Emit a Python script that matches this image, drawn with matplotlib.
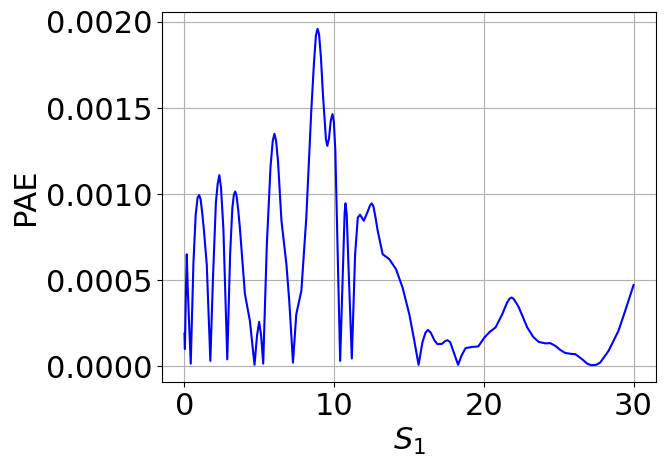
import matplotlib
matplotlib.use("Agg")
import matplotlib.pyplot as plt

# S_1 positions and PAE values (x1e-4)
s1 = [0, 0.03, 0.1, 0.155, 0.22, 0.42, 0.6, 0.75, 0.88, 0.98, 1.08, 1.2, 1.3, 1.49, 1.73,
      1.9, 2.1, 2.22, 2.33, 2.44, 2.6, 2.86, 3.05, 3.2, 3.3, 3.39, 3.48, 3.6, 3.7, 4.04,
      4.37, 4.68, 4.85, 4.99, 5.12, 5.26, 5.5, 5.75, 5.9, 6.01, 6.12, 6.25, 6.48, 6.81,
      7.0, 7.25, 7.47, 7.81, 8.14, 8.47, 8.65, 8.78, 8.89, 8.99, 9.12, 9.25, 9.45, 9.54,
      9.65, 9.78, 9.89, 9.98, 10.08, 10.2, 10.40, 10.6, 10.7, 10.76, 10.84, 10.95, 11.18,
      11.4, 11.58, 11.73, 11.98, 12.25, 12.4, 12.51, 12.62, 12.75, 12.91, 13.24, 13.68,
      14.13, 14.57, 15.02, 15.35, 15.64, 15.9, 16.1, 16.26, 16.45, 16.7, 16.9, 17.2, 17.4,
      17.57, 17.75, 17.95, 18.28, 18.5, 18.78, 19.23, 19.63, 20.03, 20.4, 20.78, 21.23,
      21.55, 21.72, 21.85, 21.98, 22.15, 22.34, 22.9, 23.3, 23.67, 24.1, 24.44, 24.78,
      25.1, 25.44, 25.8, 26.11, 26.56, 26.9, 27.17, 27.5, 27.77, 28.33, 28.99, 29.44, 30.0]
pae_e4 = [1.9, 1.0, 4.5, 6.5, 4.5, 0.15, 6.0, 8.8, 9.8, 9.94, 9.7, 8.8, 7.9, 5.9, 0.31,
          5.0, 9.5, 10.6, 11.1, 10.4, 8.0, 0.4, 6.5, 9.2, 9.95, 10.15, 9.9, 9.0, 8.06, 4.19,
          2.64, 0.08, 1.8, 2.58, 1.8, 0.15, 7.0, 11.6, 13.1, 13.5, 13.1, 11.9, 8.45, 5.93,
          3.8, 0.21, 3.02, 4.38, 8.64, 14.8, 17.6, 19.2, 19.6, 19.3, 17.9, 15.8, 13.2, 12.8,
          13.2, 14.3, 14.65, 14.2, 12.5, 8.0, 0.31, 6.0, 8.9, 9.46, 8.8, 6.0, 0.45,
          6.5, 8.64, 8.8, 8.45, 9.0, 9.35, 9.46, 9.3, 8.7, 7.87, 6.51, 6.22,
          5.64, 4.57, 3.02, 1.5, 0.08, 1.4, 1.95, 2.11, 1.95, 1.5, 1.28, 1.3, 1.45,
          1.51, 1.4, 0.9, 0.08, 0.6, 1.05, 1.12, 1.15, 1.66, 2.0, 2.25, 3.02,
          3.7, 3.93, 3.99, 3.92, 3.7, 3.41, 2.25, 1.7, 1.41, 1.33, 1.34, 1.18,
          0.95, 0.77, 0.72, 0.70, 0.41, 0.15, 0.06, 0.08, 0.21, 0.89, 2.05, 3.21, 4.71]
pae = [v * 1e-4 for v in pae_e4]

fig, ax = plt.subplots(figsize=(6.67, 4.67), dpi=100)
fig.subplots_adjust(left=162/667, right=656/667, top=1-12/467, bottom=1-382/467)

ax.plot(s1, pae, color="blue", linewidth=1.5)
ax.set_xlabel("$S_1$", fontsize=22)
ax.set_ylabel("PAE", fontsize=22)
ax.tick_params(labelsize=22)
ax.set_yticks([0.0, 0.0005, 0.0010, 0.0015, 0.0020])
ax.set_yticklabels(["0.0000", "0.0005", "0.0010", "0.0015", "0.0020"])
ax.grid(True)

fig.savefig("out.png", dpi=100)
